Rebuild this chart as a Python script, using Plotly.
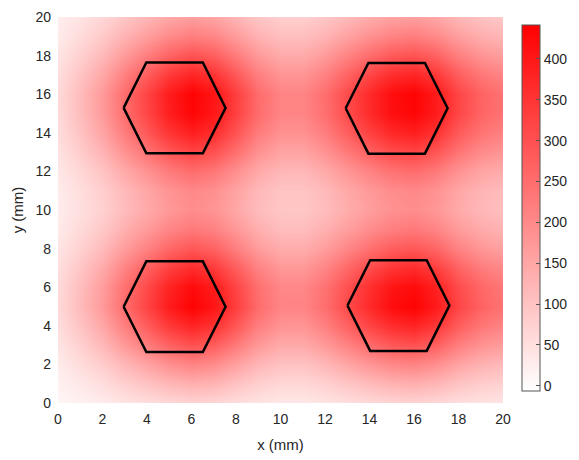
import plotly.graph_objects as go

# grid coordinates (mm)
x_mm = list(range(0, 21))
y_mm = list(range(0, 21))

# intensity values, one row per y (0 .. 20), columns x = 0 .. 20
z_rows = [
    [10, 18, 28, 41, 52, 63, 70, 65, 53, 41, 34, 34, 40, 50, 60, 68, 70, 64, 51, 43, 39],
    [18, 34, 52, 77, 98, 119, 132, 123, 100, 77, 63, 63, 75, 94, 112, 127, 132, 120, 96, 81, 72],
    [29, 54, 84, 122, 156, 190, 211, 196, 160, 122, 101, 101, 120, 150, 180, 203, 211, 192, 154, 130, 116],
    [41, 76, 119, 173, 222, 269, 299, 278, 227, 173, 143, 143, 171, 212, 254, 287, 299, 272, 218, 184, 165],
    [52, 97, 150, 219, 280, 341, 378, 352, 287, 219, 181, 181, 216, 268, 322, 363, 378, 344, 276, 233, 209],
    [60, 112, 173, 252, 323, 392, 436, 405, 331, 252, 209, 209, 248, 309, 370, 418, 436, 396, 318, 268, 240],
    [58, 108, 167, 245, 313, 380, 422, 393, 321, 245, 203, 203, 241, 300, 359, 405, 422, 384, 308, 260, 232],
    [50, 94, 145, 212, 271, 329, 365, 339, 277, 212, 175, 175, 208, 259, 310, 350, 365, 332, 266, 224, 201],
    [40, 74, 115, 168, 215, 261, 290, 270, 220, 168, 139, 139, 166, 206, 247, 279, 290, 264, 212, 178, 160],
    [31, 58, 91, 133, 170, 206, 229, 213, 174, 133, 110, 110, 131, 162, 194, 219, 229, 208, 167, 141, 126],
    [26, 50, 77, 112, 143, 174, 194, 180, 147, 112, 93, 93, 110, 137, 165, 186, 194, 176, 141, 119, 106],
    [28, 52, 80, 117, 150, 182, 202, 188, 154, 117, 97, 97, 115, 144, 172, 194, 202, 184, 148, 124, 111],
    [35, 64, 100, 145, 186, 226, 251, 233, 190, 145, 120, 120, 143, 178, 213, 241, 251, 228, 183, 154, 139],
    [44, 82, 128, 186, 238, 289, 321, 299, 244, 186, 154, 154, 183, 228, 273, 308, 321, 292, 234, 198, 178],
    [53, 99, 154, 224, 287, 348, 387, 360, 294, 224, 186, 186, 221, 275, 329, 371, 387, 352, 282, 238, 214],
    [59, 110, 171, 250, 319, 388, 431, 401, 327, 250, 207, 207, 246, 306, 367, 414, 431, 392, 315, 265, 238],
    [60, 112, 173, 252, 323, 392, 436, 405, 331, 252, 209, 209, 248, 309, 370, 418, 436, 396, 318, 268, 240],
    [52, 97, 150, 219, 280, 341, 378, 352, 287, 219, 181, 181, 216, 268, 322, 363, 378, 344, 276, 233, 209],
    [41, 76, 119, 173, 222, 269, 299, 278, 227, 173, 143, 143, 171, 212, 254, 287, 299, 272, 218, 184, 165],
    [30, 56, 87, 128, 163, 198, 220, 205, 167, 128, 106, 106, 126, 156, 187, 211, 220, 200, 161, 135, 121],
    [23, 42, 65, 94, 121, 147, 163, 151, 124, 94, 78, 78, 93, 115, 138, 156, 163, 148, 119, 100, 90],
]

z_min = -7
z_max = 441
cbar_ticks = [0, 50, 100, 150, 200, 250, 300, 350, 400]
axis_ticks = [0, 2, 4, 6, 8, 10, 12, 14, 16, 18, 20]

# hexagon outlines (centres and half-sizes, mm)
hex_cx = [5.24, 15.22, 5.24, 15.30]
hex_cy = [15.29, 15.27, 4.99, 5.05]
hex_half_width = 2.29
hex_edge_half = 1.27
hex_half_height = 2.35

fig = go.Figure()

fig.add_trace(go.Heatmap(
    x=x_mm, y=y_mm, z=z_rows,
    zmin=z_min, zmax=z_max,
    zsmooth="best",
    colorscale=[[0, "rgb(255,255,255)"], [1, "rgb(255,0,0)"]],
    colorbar=dict(
        x=1.0427, xanchor="left", xpad=0,
        y=0.504, yanchor="middle", len=1.0, lenmode="fraction",
        thickness=18, outlinewidth=1, outlinecolor="#555555",
        tickvals=cbar_ticks, ticks="inside", ticklen=4, tickcolor="#555555",
        tickfont=dict(family="Liberation Sans, Arial, sans-serif", size=14, color="#262626"),
    ),
    showscale=True,
    hoverinfo="skip",
))

for cx, cy in zip(hex_cx, hex_cy):
    xs = [cx - hex_half_width, cx - hex_edge_half, cx + hex_edge_half,
          cx + hex_half_width, cx + hex_edge_half, cx - hex_edge_half,
          cx - hex_half_width]
    ys = [cy, cy + hex_half_height, cy + hex_half_height, cy,
          cy - hex_half_height, cy - hex_half_height, cy]
    fig.add_trace(go.Scatter(x=xs, y=ys, mode="lines",
                             line=dict(color="black", width=2.5),
                             showlegend=False, hoverinfo="skip"))

font_family = "Liberation Sans, Arial, sans-serif"
fig.update_layout(
    width=579, height=460,
    margin=dict(l=58, r=76, t=17, b=57, autoexpand=False),
    paper_bgcolor="white", plot_bgcolor="white",
    showlegend=False,
    font=dict(family=font_family, size=14, color="#262626"),
)
fig.update_xaxes(
    range=[0, 20], tickvals=axis_ticks, showgrid=False, zeroline=False,
    showline=False, ticks="", ticklabelstandoff=6,
    tickfont=dict(size=14, color="#262626"),
    title=dict(text="x (mm)", font=dict(size=15, color="#262626"), standoff=13),
)
fig.update_yaxes(
    range=[0, 20], tickvals=axis_ticks, showgrid=False, zeroline=False,
    showline=False, ticks="", ticklabelstandoff=6,
    tickfont=dict(size=14, color="#262626"),
    title=dict(text="y (mm)", font=dict(size=15, color="#262626"), standoff=8),
)

fig.write_html("out.html")
